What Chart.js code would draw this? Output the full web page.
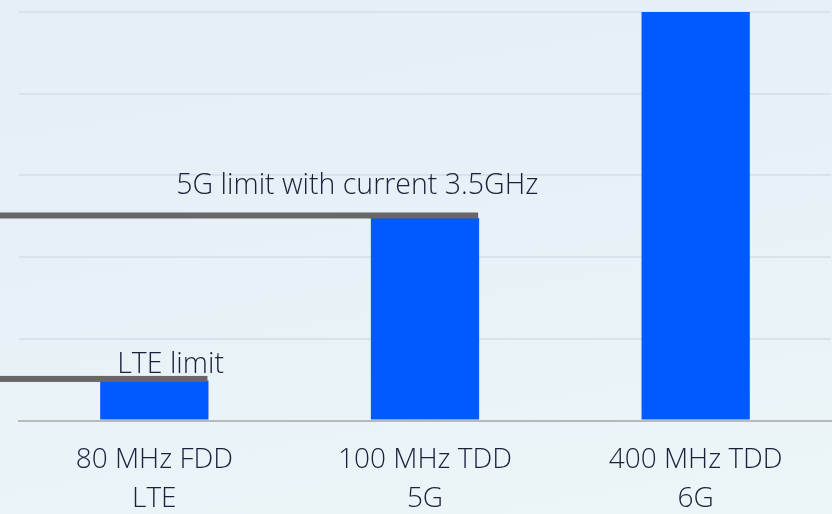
<!DOCTYPE html>
<html>
<head>
<meta charset="utf-8">
<script src="https://cdn.jsdelivr.net/npm/chart.js@4/dist/chart.umd.min.js"></script>
<style>
  html, body { margin: 0; padding: 0; }
  body {
    width: 832px;
    height: 514px;
    overflow: hidden;
    background: linear-gradient(170deg, #e5edf6 0%, #e8f1f7 50%, #ecf6f8 100%);
  }
  canvas { display: block; }
</style>
</head>
<body>
<canvas id="chart" width="832" height="514"></canvas>
<script>
  const categories = [['80 MHz FDD', 'LTE'], ['100 MHz TDD', '5G'], ['400 MHz TDD', '6G']];
  const capacity = [0.49, 2.48, 5];
  const limitNames = ['LTE limit', '5G limit with current 3.5GHz'];
  const limitValues = [0.51, 2.51];
  const limitBars = [0, 1];

  const textColor = '#17223b';
  const fontFamily = '"Open Sans", "Noto Sans", sans-serif';

  // gray limit lines from the left edge to the bar, with a caption above
  const limitPlugin = {
    id: 'limits',
    afterDatasetsDraw(chart, args, opts) {
      const ctx = chart.ctx;
      const y = chart.scales.y;
      const meta = chart.getDatasetMeta(0);
      ctx.save();
      limitValues.forEach((value, i) => {
        const bar = meta.data[limitBars[i]];
        const right = bar.x + bar.width / 2 - 1;
        const py = y.getPixelForValue(value);
        ctx.fillStyle = '#676767';
        ctx.fillRect(0, py - 3, right, 6);

        const x = chart.scales.x.getPixelForValue(limitBars[i] + opts.labelShift[i]);
        ctx.fillStyle = textColor;
        ctx.font = `300 28.5px ${fontFamily}`;
        ctx.textAlign = 'center';
        ctx.textBaseline = 'alphabetic';
        ctx.fillText(limitNames[i], x, py - opts.labelGap[i]);
      });
      ctx.restore();
    },
  };

  new Chart(document.getElementById('chart'), {
    type: 'bar',
    data: {
      labels: categories,
      datasets: [
        {
          data: capacity,
          backgroundColor: '#005aff',
          borderWidth: 0,
          barPercentage: 0.4,
          categoryPercentage: 1,
        },
      ],
    },
    options: {
      responsive: false,
      animation: false,
      layout: { padding: { left: 19, right: 1, top: 12, bottom: -17 } },
      plugins: {
        legend: { display: false },
        tooltip: { enabled: false },
        limits: { labelShift: [0.06, -0.25], labelGap: [6, 21] },
      },
      scales: {
        x: {
          grid: { display: false },
          border: { color: '#b9b9b9', width: 2 },
          ticks: {
            color: textColor,
            padding: 12,
            font: { family: fontFamily, size: 28, weight: 300, lineHeight: 1.4 },
          },
        },
        y: {
          min: 0,
          max: 5,
          ticks: { display: false, stepSize: 1 },
          border: { display: false },
          grid: { color: '#d9e1ea', lineWidth: 2, drawTicks: false },
        },
      },
    },
    plugins: [limitPlugin],
  });
</script>
</body>
</html>
